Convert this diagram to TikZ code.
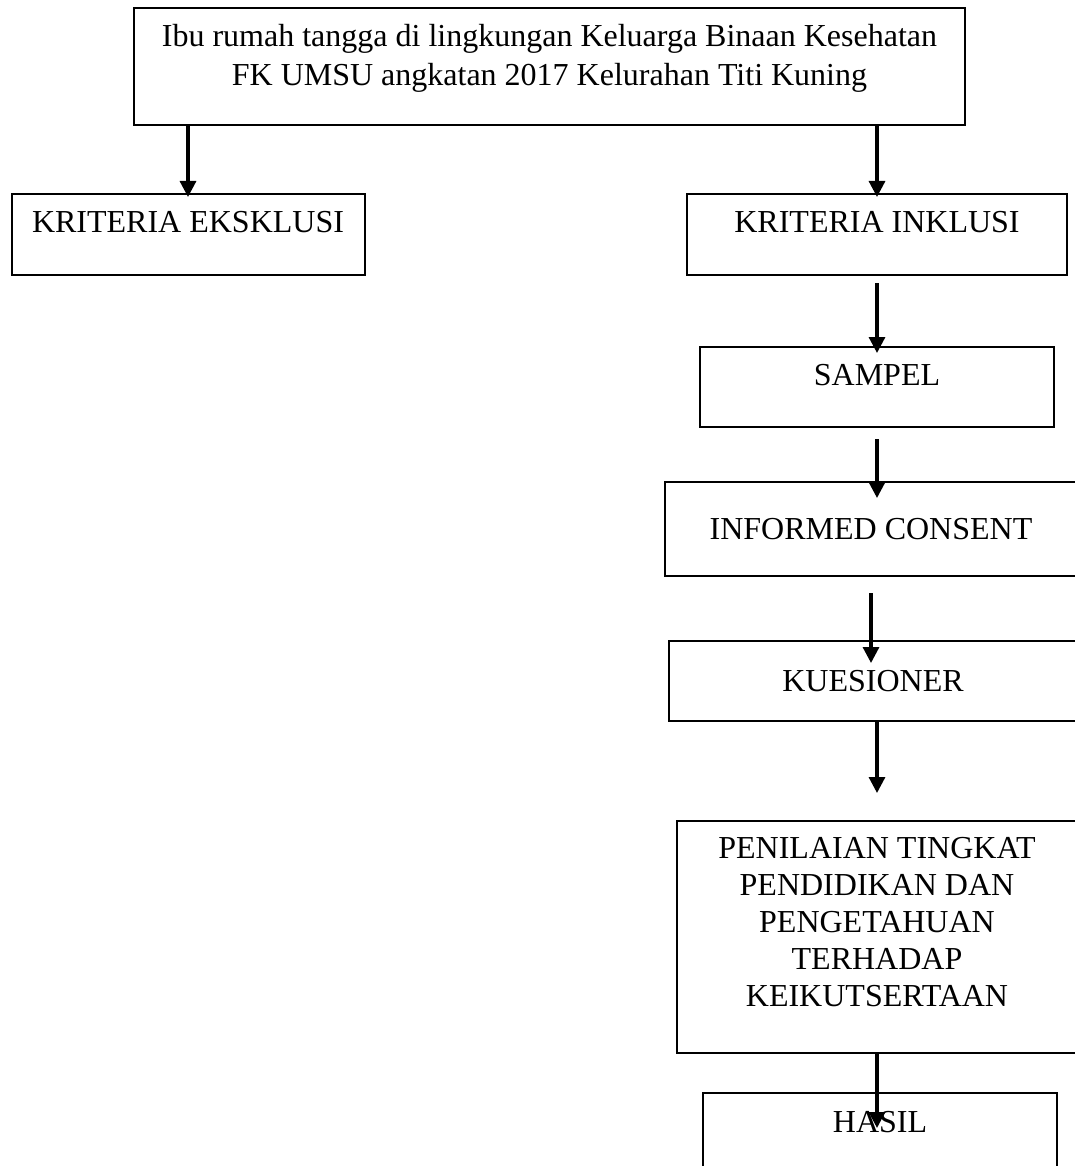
\documentclass[tikz,border=0pt]{standalone}
\usepackage{fontspec}
\setmainfont{Liberation Serif}
\usepackage{tikz}
\usetikzlibrary{arrows.meta}

\begin{document}
\begin{tikzpicture}[x=1pt, y=-1pt,
  box/.style={draw, line width=2pt, inner xsep=0pt, inner ysep=0pt,
    anchor=north, align=center, font=\fontsize{32}{37}\selectfont},
  arr/.style={line width=3.2pt, -{Triangle[length=16pt,width=16pt]}}]
\useasboundingbox (0,0) rectangle (1074,1166);
% boxes
\node[box, minimum width=831pt, text height=78pt, text depth=39pt,
  font=\fontsize{32}{39}\selectfont] (top) at (549.5,7)
  {Ibu rumah tangga di lingkungan Keluarga Binaan Kesehatan\\FK UMSU angkatan 2017 Kelurahan Titi Kuning};
\node[box, minimum width=353pt, text height=39pt, text depth=42pt] (eksk) at (188,193) {KRITERIA EKSKLUSI};
\node[box, minimum width=380pt, text height=39pt, text depth=42pt] (inkl) at (877,193) {KRITERIA INKLUSI};
\node[box, minimum width=354pt, text height=38pt, text depth=42pt] (sampel) at (877,346) {SAMPEL};
\node[box, minimum width=412pt, text height=57pt, text depth=37pt] (inf) at (871,481) {INFORMED CONSENT};
\node[box, minimum width=408pt, text height=50pt, text depth=30pt] (kues) at (873,640) {KUESIONER};
\node[box, minimum width=400pt, text height=185pt, text depth=47pt] (pen) at (877,820)
  {PENILAIAN TINGKAT\\PENDIDIKAN DAN\\PENGETAHUAN\\TERHADAP\\KEIKUTSERTAAN};
\node[box, minimum width=354pt, text height=39pt, text depth=61pt] (hasil) at (880,1092) {HASIL};
% arrows
\draw[arr, shorten >=-4pt] (top.south -| eksk.north) -- (eksk.north);
\draw[arr, shorten >=-4pt] (top.south -| inkl.north) -- (inkl.north);
\draw[arr, shorten <=7pt, shorten >=-7pt] (inkl.south) -- (inkl.south |- sampel.north);
\draw[arr, shorten <=11pt, shorten >=-17pt] (sampel.south) -- (sampel.south |- inf.north);
\draw[arr, shorten <=16pt, shorten >=-23pt] (inf.south) -- (inf.south |- kues.north);
\draw[arr, shorten >=27pt] (pen.north |- kues.south) -- (pen.north);
\draw[arr, shorten <=-2pt, shorten >=-36pt] (pen.south) -- (pen.south |- hasil.north);
\end{tikzpicture}
\end{document}
